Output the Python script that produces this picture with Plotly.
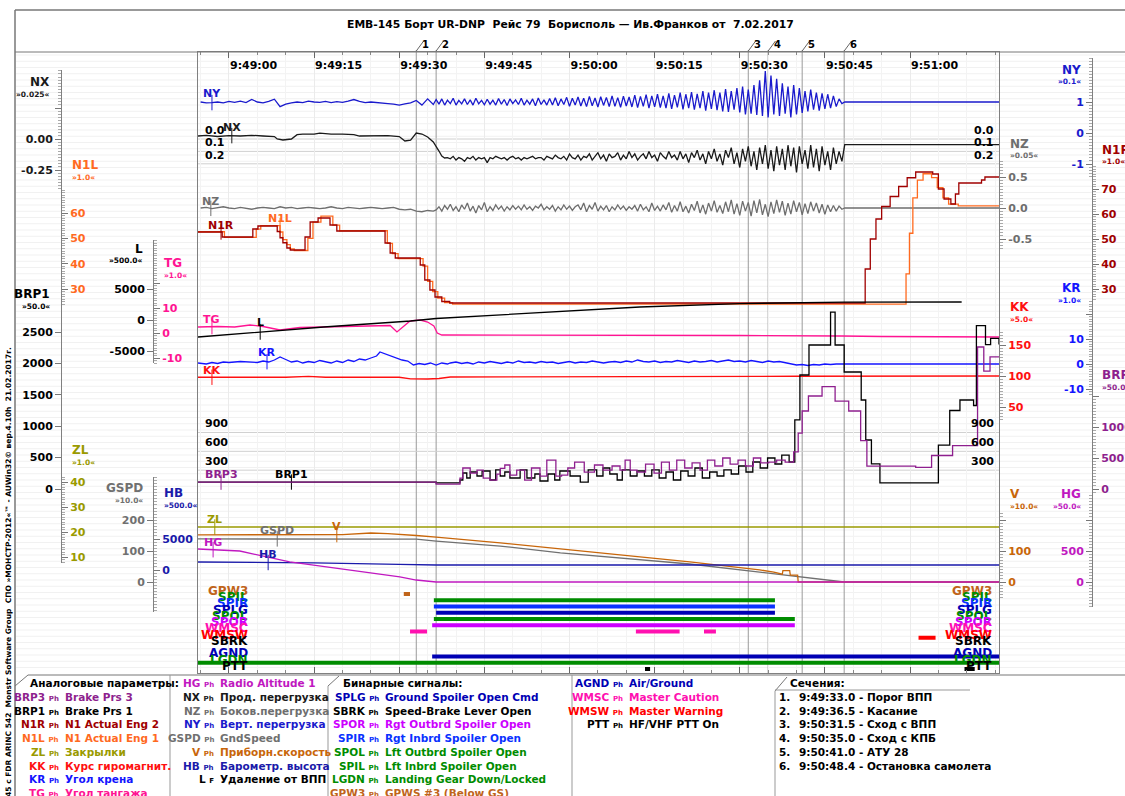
import plotly.graph_objects as go

# ======================= DATA =======================
# time in seconds after 9:49:00
TIME_TICKS = [0, 15, 30, 45, 60, 75, 90, 105, 120]
TIME_LABELS = ["9:49:00", "9:49:15", "9:49:30", "9:49:45", "9:50:00",
               "9:50:15", "9:50:30", "9:50:45", "9:51:00"]
T_START, T_END = -5.46, 135.68

SECTION_T = [33.0, 36.5, 91.5, 95.0, 101.0, 108.4]
SECTION_NAMES = ["9:49:33.0 - Порог ВПП", "9:49:36.5 - Касание", "9:50:31.5 - Сход с ВПП",
                 "9:50:35.0 - Сход с КПБ", "9:50:41.0 - АТУ 28", "9:50:48.4 - Остановка самолета"]

# NY (vertical g) : 1 s samples from -5 s, then 0.5 s samples from 36.5 s
NY_PRE = [1.0, 0.97, 0.98, 1.0, 0.97, 1.02, 0.99, 1.03, 0.98, 1.08, 1.0, 0.97, 1.02, 1.09, 0.85,
          0.93, 0.97, 1.0, 0.98, 1.03, 1.0, 0.99, 1.02, 0.98, 1.01, 0.99, 1.03, 1.08, 1.02, 0.98,
          1.0, 0.99, 0.96, 0.95, 0.93, 0.9, 0.94, 0.97, 1.05, 0.9, 1.1, 0.92]
NY_ROLL = [1.08, 0.93, 1.1, 0.9, 1.06, 0.95, 1.12, 0.9, 1.05, 0.94,
           1.1, 0.92, 1.07, 0.9, 1.12, 0.94, 1.05, 0.91, 1.09, 0.93,
           1.06, 0.9, 1.11, 0.93, 1.08, 0.89, 1.1, 0.95, 1.07, 0.92,
           1.12, 0.9, 1.06, 0.93, 1.1, 0.88, 1.13, 0.92, 1.07, 0.9,
           1.11, 0.9, 1.14, 0.88, 1.1, 0.92, 1.15, 0.86, 1.12, 0.9,
           1.16, 0.87, 1.12, 0.85, 1.18, 0.88, 1.13, 0.84, 1.17, 0.89,
           1.15, 0.85, 1.2, 0.86, 1.14, 0.83, 1.19, 0.87, 1.16, 0.84,
           1.22, 0.82, 1.18, 0.86, 1.24, 0.8, 1.2, 0.84, 1.25, 0.82,
           1.2, 0.8, 1.28, 0.78, 1.22, 0.83, 1.3, 0.76, 1.25, 0.8,
           1.32, 0.75, 1.26, 0.8, 1.35, 0.72, 1.3, 0.78, 1.38, 0.74,
           1.3, 0.7, 1.42, 0.68, 1.35, 0.75, 1.45, 0.66, 1.5, 0.6,
           1.4, 0.62, 1.55, 0.58, 1.7, 0.55, 2.0, 0.5, 1.85, 0.6,
           1.75, 0.55, 1.6, 0.62, 1.5, 0.5, 1.55, 0.6, 1.45, 0.65,
           1.35, 0.7, 1.4, 0.75, 1.3, 0.72, 1.28, 0.78, 1.25, 0.8,
           1.2, 0.85, 1.1, 0.95]
NY_POST = [(108.5, 1.0), (135.68, 1.0)]

# NX (longitudinal g)
NX_PRE = [(-5.46, 0.024), (-4, 0.03), (-2, 0.02), (0, 0.028), (2, 0.024), (4, 0.03), (6, 0.024),
          (8, 0.02), (8.5, 0.0), (9.5, -0.008), (11, 0.0), (12, 0.035), (13, 0.04), (15, 0.04),
          (16, 0.048), (18, 0.04), (20, 0.04), (22, 0.035), (23, 0.024), (26, 0.024), (28, 0.028),
          (30, 0.02), (31, -0.016), (32, -0.01), (33, 0.048), (34, 0.04), (35, 0.016),
          (36, -0.024), (36.5, -0.056), (37, -0.097), (37.5, -0.137), (38, -0.153)]
NX_ROLL = [-0.15, -0.16, -0.14, -0.17, -0.15, -0.16, -0.18, -0.15, -0.16, -0.14,
           -0.17, -0.15, -0.16, -0.15, -0.19, -0.15, -0.16, -0.14, -0.15, -0.16,
           -0.15, -0.17, -0.15, -0.14, -0.16, -0.15, -0.17, -0.15, -0.16, -0.15,
           -0.14, -0.16, -0.15, -0.15, -0.17, -0.14, -0.15, -0.16, -0.13, -0.15,
           -0.16, -0.14, -0.17, -0.12, -0.15, -0.16, -0.13, -0.17, -0.14, -0.15,
           -0.12, -0.17, -0.14, -0.11, -0.16, -0.13, -0.18, -0.12, -0.15, -0.14,
           -0.11, -0.17, -0.13, -0.16, -0.1, -0.15, -0.12, -0.17, -0.14, -0.12,
           -0.16, -0.1, -0.15, -0.13, -0.18, -0.11, -0.14, -0.16, -0.1, -0.15,
           -0.13, -0.17, -0.1, -0.16, -0.12, -0.19, -0.11, -0.15, -0.09, -0.17,
           -0.12, -0.2, -0.1, -0.16, -0.08, -0.18, -0.12, -0.21, -0.09, -0.15,
           -0.07, -0.2, -0.11, -0.23, -0.08, -0.18, -0.06, -0.22, -0.1, -0.25,
           -0.07, -0.2, -0.05, -0.24, -0.09, -0.26, -0.06, -0.21, -0.08, -0.25,
           -0.05, -0.22, -0.07, -0.27, -0.06, -0.2, -0.09, -0.24, -0.05, -0.23,
           -0.08, -0.26, -0.06, -0.21, -0.1, -0.25, -0.07, -0.2, -0.1, -0.18]
NX_POST = [(108.5, -0.045), (135.68, -0.045)]

# NZ (lateral g)
NZ_PRE = [0.0, 0.01, -0.01, 0.0, 0.02, 0.0, -0.01, 0.01, 0.0, -0.02, 0.0, 0.01, 0.0, -0.01,
          0.02, 0.0, 0.01, -0.01, 0.0, 0.01, 0.0, -0.01, 0.0, 0.02, 0.0, -0.01, 0.01, 0.0,
          -0.01, 0.0, 0.01, 0.0, -0.01, 0.0, 0.01, -0.02, -0.03, -0.02, -0.05, -0.06, -0.04, -0.05]
NZ_ROLL = [-0.03, 0.02, -0.05, 0.04, -0.02, 0.06, -0.04, 0.02, -0.06, 0.05,
           -0.02, 0.08, -0.05, 0.03, -0.08, 0.04, -0.03, 0.09, -0.06, 0.02,
           -0.04, 0.05, -0.02, 0.03, -0.05, 0.02, -0.03, 0.04, -0.02, 0.03,
           -0.03, 0.05, -0.02, 0.02, -0.04, 0.03, 0.0, 0.06, -0.03, 0.02,
           -0.02, 0.04, -0.05, 0.02, -0.03, 0.05, -0.02, 0.03, -0.04, 0.02,
           0.05, -0.03, 0.08, -0.06, 0.04, -0.02, 0.09, -0.05, 0.03, -0.03,
           0.04, -0.06, 0.02, -0.03, 0.05, -0.02, 0.03, -0.04, 0.02, -0.02,
           0.04, -0.05, 0.06, -0.03, 0.02, -0.06, 0.08, -0.04, 0.03, -0.05,
           0.05, -0.03, 0.09, -0.07, 0.04, -0.05, 0.1, -0.06, 0.03, -0.08,
           0.06, -0.04, 0.11, -0.08, 0.05, -0.1, 0.08, -0.05, 0.12, -0.07,
           0.04, -0.09, 0.1, -0.06, 0.13, -0.1, 0.07, -0.12, 0.11, -0.05,
           0.09, -0.13, 0.12, -0.08, 0.14, -0.11, 0.06, -0.14, 0.1, -0.09,
           0.13, -0.07, 0.11, -0.12, 0.08, -0.1, 0.12, -0.06, 0.09, -0.11,
           0.07, -0.09, 0.1, -0.05, 0.08, -0.08, 0.06, -0.1, 0.05, -0.06,
           0.04, -0.05, 0.03, -0.02]
NZ_POST = [(108.5, 0.0), (135.68, 0.0)]

# engines N1 (%), step signals
N1R_PTS = [(-5.46, 52.8), (-1.2, 50.8), (4.2, 54.0), (5.1, 55.2), (8.5, 53.0), (9.0, 50.5), (9.5, 48.5),
           (10.2, 46.4), (10.8, 45.6), (13.4, 50.8), (14.3, 56.8), (15.7, 58.4), (17.8, 55.6),
           (19.0, 53.2), (27.5, 48.4), (28.4, 44.4), (29.3, 42.4), (33.7, 39.6), (34.5, 33.6),
           (35.4, 29.6), (36.3, 26.8), (37.5, 25.0), (38.9, 24.4), (112.1, 38.0), (113.0, 50.0),
           (114.0, 58.0), (115.0, 63.0), (116.5, 67.0), (118.0, 71.0), (119.5, 74.5), (121.0, 76.8),
           (124.0, 76.0), (125.0, 70.0), (126.0, 66.0), (127.2, 64.0), (128.0, 68.0), (128.6, 72.4),
           (132.6, 73.6), (133.2, 74.8), (135.68, 74.8)]
N1L_PTS = [(-5.46, 52.6), (-0.8, 50.4), (4.8, 53.6), (5.6, 55.0), (9.0, 52.5), (9.5, 49.5), (10.2, 47.5),
           (10.8, 45.8), (11.5, 45.2), (13.9, 50.0), (14.8, 56.4), (16.2, 58.8), (18.3, 55.2),
           (19.5, 53.0), (27.9, 48.0), (28.8, 44.0), (29.8, 42.0), (34.2, 39.0), (35.0, 33.0),
           (35.9, 29.0), (36.8, 26.4), (38.0, 24.6), (39.4, 24.0), (118.8, 24.0), (119.3, 36.0),
           (119.9, 52.0), (120.5, 66.0), (121.3, 73.0), (122.3, 75.5), (123.8, 74.0), (124.8, 70.0),
           (125.8, 66.0), (126.8, 63.5), (128.5, 62.8), (135.68, 62.8)]

TG_PTS = [(-5.46, 2.4), (-2, 2.6), (1, 2.4), (3.7, 3.2), (6, 2.6), (9, 1.2), (12.5, 2.2), (18, 2.4),
          (23, 2.8), (28.4, 3.0), (29.6, 0.4), (31.9, 4.8), (33.7, 5.2), (35.0, 4.4), (36.1, 2.8),
          (36.7, 0.0), (37.5, -0.8), (50, -0.8), (72, -0.8), (90, -1.0), (108, -1.2), (115, -1.4),
          (135.68, -1.6)]
L_PTS = [(-5.46, -2742), (16.7, -1129), (32.0, -161), (36.5, 242), (72.4, 2097), (90, 2650),
         (108.4, 2880), (129.1, 2903)]
KR_PTS = [(-5.46, 0.4), (-4, 0.0), (-3, 0.6), (-2, 0.2), (-1, 0.8), (0, 0.6), (2, 1.0), (4, 0.8),
          (5, 0.6), (6, 1.2), (7, 0.8), (8, 1.6), (9, 2.8), (10, 1.8), (11, 0.8), (12, 1.2), (13, 0.4),
          (14, 1.0), (15, 0.6), (16, 1.4), (17, 0.8), (18, 0.4), (19, 1.2), (20, 0.6), (21, 1.6),
          (22, 1.0), (23, 2.0), (24, 1.6), (25, 2.4), (26, 3.2), (26.6, 4.8), (27.5, 4.0), (28.5, 3.2),
          (29.5, 2.4), (30.5, 1.6), (31.5, 1.2), (32.5, -0.4), (33.5, 0.2), (34.5, -0.2), (35.5, 0.4),
          (36.5, -0.4), (37.5, 0.4), (38.5, 0.0), (39, 0.4), (40, 0.8), (41, 0.2), (42, 0.6), (43, 0.0),
          (44, 0.8), (45, 0.4), (46, 1.0), (47, 0.6), (48, 0.2), (49, 0.8), (50, 0.4), (51, 1.2),
          (52, 0.6), (53, 0.8), (54, 0.4), (55, 1.0), (56, 0.6), (57, 0.8), (58, 0.2), (59, 0.6),
          (60, 1.0), (61, 0.4), (62, 0.8), (63, 0.6), (64, 1.2), (65, 0.8), (66, 0.4), (67, 0.8),
          (68, 1.0), (69, 0.6), (70, 1.2), (71, 0.8), (72, 1.6), (73, 1.0), (74, 0.8), (75, 1.2),
          (76, 0.6), (77, 1.0), (78, 0.8), (79, 1.4), (80, 1.0), (81, 0.6), (82, 1.2), (83, 0.8),
          (84, 1.0), (85, 1.4), (86, 0.8), (87, 1.2), (88, 1.6), (89, 1.0), (90, 1.2), (91, 0.8),
          (92, 1.4), (93, 1.0), (94, 0.6), (95, 1.2), (96, 0.8), (97, 1.0), (98, 0.6), (99, 0.2),
          (100, -0.4), (101, -0.2), (102, -0.6), (103, -0.2), (104, -0.4), (105, 0.0), (106, -0.2),
          (107, 0.0), (108, 0.0), (135.68, 0.0)]
KK_PTS = [(-5.46, 98.0), (10, 98.0), (14, 99.5), (17, 98.0), (30, 98.0), (32, 95.5), (35, 95.2),
          (37, 96.0), (39, 98.4), (60, 99.2), (80, 99.5), (100, 99.6), (135.68, 100.0)]

BRP1_PTS = [(-5.46, 111), (36.5, 96), (40.7, 143), (41.2, 255), (41.9, 175), (42.5, 271), (43.7, 207),
            (44.6, 287), (46.0, 143), (47.0, 303), (47.8, 207), (48.6, 271), (49.5, 175), (51.3, 303),
            (52.5, 175), (53.9, 239), (54.8, 127), (56.2, 239), (57.4, 143), (58.3, 287), (60.1, 207),
            (61.9, 111), (63.3, 303), (64.8, 207), (65.9, 334), (67.1, 239), (68.4, 143), (69.3, 303),
            (70.7, 207), (71.9, 287), (73.2, 207), (74.5, 303), (75.8, 175), (77.0, 271), (78.3, 143),
            (79.6, 287), (80.9, 207), (82.1, 334), (83.4, 175), (84.7, 271), (86.0, 207), (87.2, 303),
            (88.5, 239), (89.8, 366), (91.1, 271), (92.3, 430), (93.6, 334), (94.9, 494), (96.2, 398),
            (97.4, 541), (98.7, 430), (99.7, 1100), (100.6, 1815), (102.2, 2293), (106.0, 2818),
            (106.8, 2293), (108.4, 1863), (111.4, 1417), (112.2, 780), (113.2, 400), (114.7, 96),
            (124.4, 96), (125.0, 700), (127.0, 1250), (128.8, 1417), (131.2, 1330), (131.7, 2600),
            (133.3, 2300), (134.2, 2400), (135.68, 2300)]
BRP3_PTS = [(-5.46, 111), (36.5, 80), (40.7, 175), (41.2, 339), (42.5, 255), (43.7, 303), (44.8, 175),
            (46.0, 143), (47.2, 239), (47.8, 334), (48.6, 387), (49.5, 223), (50.7, 303), (52.1, 143),
            (53.3, 339), (54.8, 207), (56.0, 467), (57.6, 207), (58.6, 223), (59.7, 339), (60.9, 435),
            (62.6, 271), (64.4, 387), (65.9, 303), (67.5, 371), (68.9, 303), (69.8, 467), (70.7, 303),
            (71.9, 271), (73.4, 400), (74.9, 255), (76.2, 435), (77.6, 303), (78.9, 467), (80.3, 339),
            (81.6, 420), (83.0, 303), (84.3, 467), (85.6, 371), (87.0, 500), (88.3, 400), (89.7, 467),
            (91.0, 371), (92.4, 500), (93.7, 420), (95.1, 435), (96.5, 467), (98.0, 435), (99.5, 600),
            (100.3, 900), (101.0, 1258), (102.1, 1500), (104.5, 1650), (106.8, 1417), (109.2, 1258),
            (111.3, 780), (112.4, 370), (121.0, 350), (123.8, 540), (127.5, 700), (131.9, 2290),
            (133.0, 1900), (134.1, 2130), (135.68, 2130)]

ZL_PTS = [(-5.46, 22.0), (135.68, 22.0)]
GSPD_PTS = [(-5.46, 139), (20, 139), (33, 138), (36.5, 132), (47.8, 116), (58.4, 94), (68.9, 77),
            (81.2, 58), (93.5, 32), (100.5, 16), (108.4, 0), (135.68, 0)]
V_PTS = [(-5.46, 152), (10, 152), (20, 153), (25, 158), (28, 156), (33, 150), (36.5, 145), (47.8, 126),
         (58.4, 106), (68.9, 87), (81.2, 65), (93.5, 39), (96.0, 32), (97.5, 25), (97.6, 37), (98.8, 37),
         (98.9, 22), (100.2, 22), (100.3, 0), (135.68, 0)]
HG_PTS = [(-5.46, 532), (1.9, 500), (10.7, 323), (21.3, 194), (30.1, 81), (33, 32), (36.5, 0), (135.68, 0)]
HB_PTS = [(-5.46, 1290), (15, 1150), (30, 900), (36.5, 806), (135.68, 806)]

# binary signals: row order and on-intervals (s)
BIN_ROWS = {"GPW3": 0, "SPIL": 1, "SPIR": 2, "SPLG": 3, "SPOL": 4, "SPOR": 5, "WMSC": 6,
            "WMSW": 7, "SBRK": 8, "AGND": 10, "LGDN": 11, "PTT": 12}
BIN_ON = {"GPW3": [(30.8, 31.9)], "SPIL": [(36.1, 96.2)], "SPIR": [(36.1, 96.2)],
          "SPLG": [(36.5, 96.2)], "SPOL": [(36.1, 99.7)], "SPOR": [(35.8, 99.7)],
          "WMSC": [(31.9, 34.9), (71.7, 79.4), (83.7, 85.8)], "WMSW": [(121.5, 124.5)],
          "SBRK": [], "AGND": [(35.8, 135.68)], "LGDN": [(-5.46, 135.68)],
          "PTT": [(73.3, 74.2), (129.6, 131.4)]}

COL = {"BRP3": "#8e1f8e", "BRP1": "#000000", "N1R": "#a00000", "N1L": "#ff6a1f", "ZL": "#9a9a00",
       "KK": "#ff1010", "KR": "#1414ff", "TG": "#ff1493", "HG": "#c018c0", "NX": "#1a1a1a",
       "NZ": "#6e6e6e", "NY": "#1a1acc", "GSPD": "#707070", "V": "#c8660a", "HB": "#1a1aaa",
       "L": "#000000", "SPLG": "#0000b4", "SBRK": "#000000", "SPOR": "#cc00ff", "SPIR": "#0a32ff",
       "SPOL": "#008c00", "SPIL": "#008c00", "LGDN": "#008c00", "GPW3": "#c0641a",
       "AGND": "#0000b4", "WMSC": "#ff10b0", "WMSW": "#ff0000", "PTT": "#000000"}

# ======================= GEOMETRY =======================
W, H = 1125, 796
FONT = "DejaVu Sans"
PL, PR, PT, PB = 198, 999, 52, 673


def px(x):
    return x / W


def py(y):
    return 1 - y / H


# value <-> pixel calibrations of every scale (value, pixel-row)
CAL = {"NY": [(1, 102), (0, 133)], "NX": [(0, 139), (-0.25, 170)], "NZ": [(0.5, 177), (0, 208)],
       "N1L": [(60, 213), (30, 289)], "N1R": [(70, 189), (30, 289)], "TG": [(10, 308), (0, 333)],
       "L": [(5000, 289), (0, 320)], "KR": [(10, 339), (0, 364)], "KK": [(150, 345), (100, 376)],
       "BRP1": [(2500, 332), (0, 489)], "BRP3": [(1000, 427), (0, 489)], "ZL": [(40, 482), (10, 557)],
       "GSPD": [(200, 520), (0, 582)], "V": [(100, 551), (0, 582)], "HB": [(5000, 539), (0, 570)],
       "HG": [(500, 551), (0, 582)], "BIN": [(0, 594), (12, 669)]}


def vrange(cal, ytop, ybot):
    (v0, y0), (v1, y1) = cal
    k = (v1 - v0) / (y1 - y0)
    return [v0 + (ybot - y0) * k, v0 + (ytop - y0) * k]


fig = go.Figure()
layout = {}
AX = {}
n_ax = [1]


def new_ax():
    n_ax[0] += 1
    return n_ax[0]


for name in CAL:
    i = new_ax()
    AX[name] = i
    layout[f"yaxis{i}"] = dict(overlaying="y", visible=False, range=vrange(CAL[name], PT, PB),
                               fixedrange=True)


def bfont(size=11, color="black"):
    return dict(family=FONT, size=size, color=color, weight="bold")


# ---- visible scales: name, x-pixel, side, top, bottom, tickvals, ticktext, minor step
SCALES = [
    ("NX", 61, "left", 70, 190, [0.25, 0, -0.25], ["", "0.00", "-0.25"], 0.025),
    ("N1L", 61, "right", 190, 305, [70, 60, 50, 40, 30], ["", "60", "50", "40", "30"], 1),
    ("BRP1", 61, "left", 305, 490, [2500, 2000, 1500, 1000, 500, 0],
     ["2500", "2000", "1500", "1000", "500", "0"], None),
    ("ZL", 61, "right", 476, 563, [40, 30, 20, 10], ["40", "30", "20", "10"], 1),
    ("L", 153, "left", 240, 363, [5000, 0, -5000], ["5000", "0", "-5000"], None),
    ("TG", 153, "right", 240, 363, [20, 10, 0, -10], ["", "10", "0", "-10"], 1),
    ("GSPD", 153, "left", 477, 612, [200, 100, 0], ["200", "100", "0"], None),
    ("HB", 153, "right", 477, 612, [5000, 0], ["5000", "0"], 500),
    ("NZ", 999, "right", 160, 250, [0.5, 0, -0.5], ["0.5", "0.0", "-0.5"], 0.05),
    ("KK", 999, "right", 330, 420, [150, 100, 50], ["150", "100", "50"], 5),
    ("V", 999, "right", 512, 598, [200, 100, 0], ["", "100", "0"], 10),
    ("NY", 1092, "left", 58, 178, [1, 0, -1], ["1", "0", "-1"], 0.1),
    ("N1R", 1092, "right", 165, 300, [70, 60, 50, 40, 30], ["70", "60", "50", "40", "30"], 1),
    ("KR", 1092, "left", 300, 395, [20, 10, 0, -10], ["", "10", "0", "-10"], 1),
    ("BRP3", 1092, "right", 395, 495, [1500, 1000, 500, 0], ["", "1000", "500", "0"], 50),
    ("HG", 1092, "left", 495, 607, [1000, 500, 0], ["", "500", "0"], 50),
]

for name, xp, side, yt, yb, tv, tt, mn in SCALES:
    i = new_ax()
    ax = dict(anchor="free", position=px(xp), side=side, domain=[py(yb), py(yt)],
              range=vrange(CAL[name], yt, yb), tickmode="array", tickvals=tv, ticktext=tt,
              ticks="outside", ticklen=6, tickcolor="#777", showline=True, linecolor="#808080",
              linewidth=1, tickfont=bfont(11, COL[name]), showgrid=False, zeroline=False,
              fixedrange=True, automargin=False)
    if mn:
        ax["minor"] = dict(tickmode="linear", tick0=0, dtick=mn, ticklen=3, tickcolor="#aaa",
                           ticks="outside")
    layout[f"yaxis{i}"] = ax
    fig.add_trace(go.Scatter(x=[T_START], y=[CAL[name][0][0]], xaxis="x2", yaxis=f"y{i}",
                             mode="markers", marker=dict(opacity=0), hoverinfo="skip",
                             showlegend=False))

# base subplot
fig.add_trace(go.Scatter(x=[T_START], y=[0.5], mode="markers", marker=dict(opacity=0),
                         hoverinfo="skip", showlegend=False))


def split(pts):
    return [p[0] for p in pts], [p[1] for p in pts]


def grid(start, step, vals):
    return [start + step * k for k in range(len(vals))]


SERIES = {}
SERIES["NY"] = (grid(-5, 1, NY_PRE) + grid(36.5, 0.5, NY_ROLL) + split(NY_POST)[0],
                NY_PRE + NY_ROLL + split(NY_POST)[1], "linear")
SERIES["NX"] = (split(NX_PRE)[0] + grid(38.5, 0.5, NX_ROLL) + split(NX_POST)[0],
                split(NX_PRE)[1] + NX_ROLL + split(NX_POST)[1], "linear")
SERIES["NZ"] = (grid(-5, 1, NZ_PRE) + grid(36.5, 0.5, NZ_ROLL) + split(NZ_POST)[0],
                NZ_PRE + NZ_ROLL + split(NZ_POST)[1], "linear")
for nm, pts, shp in [("N1R", N1R_PTS, "hv"), ("N1L", N1L_PTS, "hv"), ("TG", TG_PTS, "linear"),
                     ("L", L_PTS, "linear"), ("KR", KR_PTS, "linear"), ("KK", KK_PTS, "linear"),
                     ("BRP1", BRP1_PTS, "hv"), ("BRP3", BRP3_PTS, "hv"), ("ZL", ZL_PTS, "linear"),
                     ("GSPD", GSPD_PTS, "linear"), ("V", V_PTS, "linear"), ("HG", HG_PTS, "linear"),
                     ("HB", HB_PTS, "linear")]:
    tx, vy = split(pts)
    SERIES[nm] = (tx, vy, shp)

DRAW_ORDER = ["ZL", "HB", "GSPD", "V", "HG", "KK", "KR", "L", "TG", "BRP3", "BRP1", "N1L", "N1R",
              "NZ", "NX", "NY"]
for nm in DRAW_ORDER:
    tx, vy, shp = SERIES[nm]
    fig.add_trace(go.Scatter(x=tx, y=vy, mode="lines", yaxis=f"y{AX[nm]}",
                             line=dict(color=COL[nm], width=1.3, shape=shp),
                             hoverinfo="skip", showlegend=False))


def value_at(nm, t):
    tx, vy, shp = SERIES[nm]
    for k in range(len(tx) - 1):
        if tx[k] <= t <= tx[k + 1]:
            if shp == "hv":
                return vy[k]
            f = (t - tx[k]) / (tx[k + 1] - tx[k]) if tx[k + 1] != tx[k] else 0
            return vy[k] + f * (vy[k + 1] - vy[k])
    return vy[-1]


# binary signals
for nm, row in BIN_ROWS.items():
    xs, ys = [], []
    for a, b in BIN_ON[nm]:
        xs += [a, b, None]
        ys += [row, row, None]
    if xs:
        fig.add_trace(go.Scatter(x=xs, y=ys, mode="lines", yaxis=f"y{AX['BIN']}",
                                 line=dict(color=COL[nm], width=4), hoverinfo="skip",
                                 showlegend=False))

ann = []
shapes = []


def T(x, y, s, color="black", size=11, xa="center", ya="middle", xref="paper", yref="paper",
      **kw):
    if xref == "paper":
        x = px(x)
    if yref == "paper":
        y = py(y)
    ann.append(dict(x=x, y=y, xref=xref, yref=yref, text=s, showarrow=False, xanchor=xa,
                    yanchor=ya, font=bfont(size, color), **kw))


def LINE(x0, y0, x1, y1, color="#808080", width=1, xref="paper", yref="paper", layer="above"):
    """pixel coordinates for paper refs, data values otherwise"""
    if xref == "paper":
        x0, x1 = px(x0), px(x1)
    if yref == "paper":
        y0, y1 = py(y0), py(y1)
    shapes.append(dict(type="line", x0=x0, y0=y0, x1=x1, y1=y1, xref=xref, yref=yref, layer=layer,
                       line=dict(color=color, width=width)))


# faint background ruling (every two scale divisions)
gy = 55.0
while gy < PB:
    LINE(16, gy, W, gy, "#f1f1f1", 1, layer="below")
    gy += 6.25

# in-plot labels with marker ticks
PLOT_LABELS = [("NY", -3.0, 9), ("NX", 0.5, 8), ("NZ", -3.2, 7), ("N1R", -1.4, 6), ("N1L", 9.0, 7),
               ("TG", -3.0, 7), ("L", 5.5, 10), ("KR", 6.7, 9), ("KK", -3.0, 7), ("BRP3", -1.4, 8),
               ("BRP1", 11.0, 8), ("ZL", -2.5, 8), ("GSPD", 8.5, 8), ("V", 19.0, 8), ("HG", -2.8, 7),
               ("HB", 6.9, 8)]
for nm, t, sh in PLOT_LABELS:
    v = value_at(nm, t)
    T(t, v, nm, COL[nm], 11, xref="x", yref=f"y{AX[nm]}", yshift=sh)
    fig.add_trace(go.Scatter(x=[t], y=[v], mode="markers", yaxis=f"y{AX[nm]}",
                             marker=dict(symbol="line-ns", size=11,
                                         line=dict(color=COL[nm], width=1)),
                             hoverinfo="skip", showlegend=False))

# reference lines with labels (NX and brake-pressure grids)
for v, s in [(0, "0.0"), (-0.1, "0.1"), (-0.2, "0.2")]:
    LINE(T_START, v, T_END, v, "#d0d0d0", 1, xref="x", yref=f"y{AX['NX']}", layer="below")
    T(203, v, s, "black", 11, xa="left", ya="bottom", yref=f"y{AX['NX']}")
    T(996, v, s, "black", 11, xa="right", ya="bottom", yref=f"y{AX['NX']}")
for v in [900, 600, 300]:
    LINE(T_START, v, T_END, v, "#d0d0d0", 1, xref="x", yref=f"y{AX['BRP1']}", layer="below")
    T(203, v, str(v), "black", 11, xa="left", ya="bottom", yref=f"y{AX['BRP1']}")
    T(996, v, str(v), "black", 11, xa="right", ya="bottom", yref=f"y{AX['BRP1']}")

# binary labels, both sides
for nm, row in BIN_ROWS.items():
    T(250, row - 0.5, nm, COL[nm], 12, xa="right", yref=f"y{AX['BIN']}")
    T(994, row - 0.5, nm, COL[nm], 12, xa="right", yref=f"y{AX['BIN']}")

# scale titles
SCALE_TITLES = [("NX", "»0.025«", 52, 82, "right"), ("N1L", "»1.0«", 70, 165, "left"),
                ("BRP1", "»50.0«", 52, 294, "right"), ("ZL", "»1.0«", 70, 450, "left"),
                ("L", "»500.0«", 145, 249, "right"), ("TG", "»1.0«", 162, 263, "left"),
                ("GSPD", "»10.0«", 145, 488, "right"), ("HB", "»500.0«", 162, 493, "left"),
                ("NZ", "»0.05«", 1008, 144, "left"), ("NY", "»0.1«", 1083, 70, "right"),
                ("N1R", "»1.0«", 1100, 150, "left"), ("KR", "»1.0«", 1083, 288, "right"),
                ("KK", "»5.0«", 1008, 307, "left"), ("BRP3", "»50.0«", 1100, 375, "left"),
                ("V", "»10.0«", 1008, 494, "left"), ("HG", "»50.0«", 1083, 494, "right")]
for nm, sc, x, y, al in SCALE_TITLES:
    T(x, y, nm, COL[nm], 12, xa=al)
    T(x, y + 12, sc, COL[nm], 7.5, xa=al)

# section cut lines and numbers
for k, t in enumerate(SECTION_T):
    LINE(t, PB, t, 50, "#9a9a9a", 1, xref="x", layer="below")
    LINE(t, 51, t + 1.3, 41, "#666", 1, xref="x")
    T(t, 44, str(k + 1), "black", 10, xref="x", xshift=9)

# frame lines
LINE(15, 10, W, 10, "#777", 1.5)
LINE(15, 52, W, 52, "#777", 1)
LINE(15, 10, 15, H, "#777", 1.5)
LINE(28, 675, W, 675, "#777", 1)
LINE(15, 686, 28, 675, "#777", 1)
LINE(170, 675, 170, H, "#999", 1)
LINE(328, 686, 339, 676, "#777", 1)
LINE(328, 686, 328, H, "#999", 1)
LINE(572, 675, 572, H, "#999", 1)
LINE(775, 691, 787, 677, "#777", 1)
LINE(775, 691, 775, H, "#999", 1)
LINE(775, 690, 970, 690, "#999", 1)

# title
T(570, 25, "EMB-145 Борт UR-DNP\u00a0\u00a0Рейс 79\u00a0\u00a0Борисполь — Ив.Франков от\u00a0\u00a07.02.2017",
  "black", 10.8)

# vertical side text
T(8, 345, "EMB-145 c FDR ARINC 542\u00a0\u00a0Monstr Software Group\u00a0\u00a0СПО »МОНСТР-2012«™ - "
          "AUWin32© вер.4.10h\u00a0\u00a021.02.2017г.", "black", 7.5, ya="top", textangle=-90)

# ---------------- bottom legend ----------------
ROWY = [683, 697, 711, 724, 738, 752, 766, 779, 793]
PH = "<span style='font-size:7px'>Ph</span>"
COL1 = [("BRP3", "Brake Prs 3"), ("BRP1", "Brake Prs 1"), ("N1R", "N1 Actual Eng 2"),
        ("N1L", "N1 Actual Eng 1"), ("ZL", "Закрылки"), ("KK", "Курс гиромагнит."),
        ("KR", "Угол крена"), ("TG", "Угол тангажа")]
COL2 = [("HG", "Radio Altitude 1"), ("NX", "Прод. перегрузка"), ("NZ", "Боков.перегрузка"),
        ("NY", "Верт. перегрузка"), ("GSPD", "GndSpeed"), ("V", "Приборн.скорость"),
        ("HB", "Барометр. высота"), ("L", "Удаление от ВПП")]
COL3 = [("SPLG", "Ground Spoiler Open Cmd"), ("SBRK", "Speed-Brake Lever Open"),
        ("SPOR", "Rgt Outbrd Spoiler Open"), ("SPIR", "Rgt Inbrd Spoiler Open"),
        ("SPOL", "Lft Outbrd Spoiler Open"), ("SPIL", "Lft Inbrd Spoiler Open"),
        ("LGDN", "Landing Gear Down/Locked"), ("GPW3", "GPWS #3 (Below GS)")]
COL4 = [("AGND", "Air/Ground"), ("WMSC", "Master Caution"), ("WMSW", "Master Warning"),
        ("PTT", "HF/VHF PTT On")]

LS = 10.5
T(28, ROWY[0], "Аналоговые параметры:", "black", LS, xa="left")
for k, (c, d) in enumerate(COL1):
    T(61, ROWY[k + 1], f"{c} {PH}", COL[c], LS, xa="right")
    T(63, ROWY[k + 1], d, COL[c], LS, xa="left")
for k, (c, d) in enumerate(COL2):
    tag = "<span style='font-size:7px'>F</span>" if c == "L" else PH
    T(216, ROWY[k], f"{c} {tag}", COL[c], LS, xa="right")
    T(218, ROWY[k], d, COL[c], LS, xa="left")
T(341, ROWY[0], "Бинарные сигналы:", "black", LS, xa="left")
for k, (c, d) in enumerate(COL3):
    T(381, ROWY[k + 1], f"{c} {PH}", COL[c], LS, xa="right")
    T(383, ROWY[k + 1], d, COL[c], LS, xa="left")
for k, (c, d) in enumerate(COL4):
    T(625, ROWY[k], f"{c} {PH}", COL[c], LS, xa="right")
    T(627, ROWY[k], d, COL[c], LS, xa="left")
T(788, ROWY[0], "Сечения:", "black", LS, xa="left")
for k, s in enumerate(SECTION_NAMES):
    T(777, ROWY[k + 1], f"{k + 1}.", "black", LS, xa="left")
    T(797, ROWY[k + 1], s, "black", LS, xa="left")

# ---------------- axes ----------------
layout["xaxis"] = dict(domain=[px(PL), px(PR)], range=[T_START, T_END], anchor="y", side="top",
                       tickmode="array", tickvals=TIME_TICKS, ticktext=TIME_LABELS,
                       ticks="inside", ticklen=6, tickcolor="#666", ticklabelposition="inside right",
                       ticklabelstandoff=6,
                       tickfont=bfont(11), showline=True, linecolor="#808080", mirror="ticks",
                       showgrid=True, gridcolor="#ebebeb", zeroline=False, fixedrange=True,
                       minor=dict(tickmode="linear", tick0=0, dtick=5, ticklen=3, ticks="inside",
                                  tickcolor="#888", showgrid=True, gridcolor="#f3f3f3"))
layout["xaxis2"] = dict(domain=[px(PL), px(PR)], range=[T_START, T_END], anchor="y", visible=False,
                        fixedrange=True)
layout["yaxis"] = dict(domain=[py(PB), py(PT)], range=[0, 1], showline=True, linecolor="#808080",
                       mirror=True, showticklabels=False, ticks="", showgrid=False, zeroline=False,
                       fixedrange=True)

fig.update_layout(width=W, height=H, margin=dict(l=0, r=0, t=0, b=0), paper_bgcolor="white",
                  plot_bgcolor="rgba(0,0,0,0)", showlegend=False, annotations=ann, shapes=shapes,
                  font=dict(family=FONT), **layout)
fig.write_html("out.html", config={"displayModeBar": False, "staticPlot": True},
               post_script="document.body.style.margin='0px';"
                           "document.body.style.overflow='hidden';")
